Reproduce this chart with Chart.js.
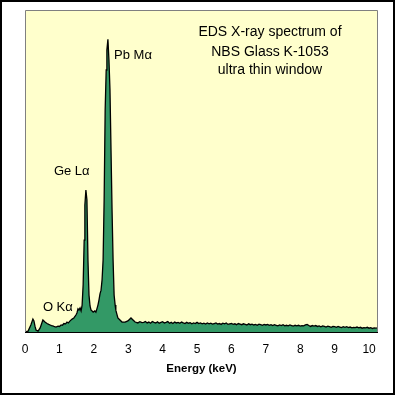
<!DOCTYPE html>
<html lang="en">
    <head>
        <meta charset="UTF-8">
        <title>EDS X-ray spectrum</title>
        <style>
            html, body { margin: 0; padding: 0; background: #fff; }
            #wrap { width: 395px; height: 395px; }
        </style>
    </head>
    <body>
        <div id="wrap">
            <canvas id="spectrumChart" width="395" height="395"></canvas>
        </div>

        <script src="https://cdn.jsdelivr.net/npm/chart.js"></script>

    <script>
        // energy (keV) and counts, Pb Ma peak = 1000
        const energy = [
            0, 0.09, 0.17, 0.23, 0.26, 0.29, 0.32, 0.38, 0.44, 0.49, 0.52, 0.58, 0.64, 0.69, 0.73, 0.77, 0.81, 0.86, 0.9, 0.96,
            1.0, 1.05, 1.09, 1.13, 1.18, 1.22, 1.26, 1.31, 1.37, 1.42, 1.48, 1.51, 1.54, 1.57, 1.6, 1.63, 1.66, 1.69, 1.72, 1.74, 1.77,
            1.8, 1.83, 1.86, 1.89, 1.92, 1.95, 1.98, 2.03, 2.06, 2.09, 2.12, 2.15, 2.18, 2.21, 2.24, 2.27, 2.3,
            2.33, 2.36, 2.38, 2.41, 2.44, 2.47, 2.5, 2.53, 2.56, 2.59, 2.62, 2.64, 2.67, 2.7, 2.76, 2.82, 2.91,
            2.99, 3.08, 3.14, 3.2, 3.28, 3.34, 3.4,
            3.45, 3.5, 3.55, 3.6, 3.65, 3.7, 3.75, 3.8, 3.85, 3.9, 3.95,
            4.0, 4.05, 4.1, 4.15, 4.2, 4.25, 4.3, 4.35, 4.4, 4.45, 4.5, 4.55, 4.6, 4.65, 4.7, 4.75, 4.8, 4.85, 4.9, 4.95,
            5.0, 5.05, 5.1, 5.15, 5.2, 5.25, 5.3, 5.35, 5.4, 5.45, 5.5, 5.55, 5.6, 5.65, 5.7, 5.75, 5.8, 5.85, 5.9, 5.95,
            6.0, 6.05, 6.1, 6.15, 6.2, 6.25, 6.3, 6.35, 6.4, 6.45, 6.5, 6.55, 6.6, 6.65, 6.7, 6.75, 6.8, 6.85, 6.9, 6.95,
            7.0, 7.05, 7.1, 7.15, 7.2, 7.25, 7.3, 7.35, 7.4, 7.45, 7.5, 7.55, 7.6, 7.65, 7.7, 7.75, 7.8, 7.85, 7.9, 7.95,
            8.0, 8.05, 8.1, 8.15, 8.2, 8.25, 8.3, 8.35, 8.4, 8.45, 8.5, 8.55, 8.6, 8.65, 8.7, 8.75, 8.8, 8.85, 8.9, 8.95,
            9.0, 9.05, 9.1, 9.15, 9.2, 9.25, 9.3, 9.35, 9.4, 9.45, 9.5, 9.55, 9.6, 9.65, 9.7, 9.75, 9.8, 9.85, 9.9, 9.95,
            10.0, 10.05, 10.1, 10.15, 10.2, 10.26
        ];
        const counts = [
            0, 3, 24, 44, 38, 20, 7, 3, 14, 31, 41, 34, 29, 26, 24, 22, 21, 18, 17, 20,
            19, 24, 23, 29, 28, 34, 31, 38, 44, 48, 58, 65, 79, 75, 82, 72, 92, 161, 314, 434, 485,
            451, 246, 126, 89, 75, 72, 68, 72, 68, 79, 92, 109, 130, 143, 178, 246, 451,
            758, 895, 963, 1000, 929, 827, 622, 417, 246, 126, 92, 75, 61, 48, 41, 34, 34,
            38, 48, 41, 34, 31, 35, 32,
            33, 36, 31, 34, 30, 36, 33, 31, 35, 30, 33,
            35, 31, 33, 36, 30, 33, 29, 34, 31, 33, 30, 34, 31, 29, 33, 30, 32, 28, 31, 29,
            33, 29, 31, 28, 30, 27, 31, 28, 30, 27, 29, 31, 27, 29, 26, 30, 28, 31, 26, 28,
            29, 26, 28, 25, 29, 27, 25, 28, 26, 24, 28, 25, 27, 24, 26, 23, 27, 25, 23, 26,
            24, 26, 23, 25, 22, 25, 23, 21, 24, 22, 25, 21, 23, 21, 24, 22, 20, 23, 21, 23,
            20, 22, 21, 24, 26, 22, 19, 22, 20, 22, 19, 21, 18, 21, 19, 17, 20, 18, 16, 19,
            18, 16, 19, 17, 15, 18, 16, 18, 15, 17, 14, 16, 15, 17, 14, 16, 13, 15, 14, 16,
            13, 15, 12, 14, 13, 14
        ];
        const xTicks = [0, 1, 2, 3, 4, 5, 6, 7, 8, 9, 10];

        const peakLabels = ['Pb M\u03b1', 'Ge L\u03b1', 'O K\u03b1'];
        const peakLabelAt = [[2.59, 946], [0.84, 547], [0.52, 85]];
        const titleLines = ['EDS X-ray spectrum of', 'NBS Glass K-1053', 'ultra thin window'];
        const titleLineAt = [[7.12, 1025], [7.12, 956], [7.12, 895]];

        const frame = {
            id: 'frame',
            beforeDatasetsDraw(chart) {
                const a = chart.chartArea, c = chart.ctx;
                c.save();
                c.fillStyle = '#ffffcc';
                c.fillRect(a.left, a.top, a.right - a.left, a.bottom - a.top);
                c.restore();
            },
            afterDraw(chart) {
                const a = chart.chartArea, c = chart.ctx;
                const xs = chart.scales.x, ys = chart.scales.y;
                c.save();
                c.strokeStyle = '#808080';
                c.lineWidth = 1;
                c.beginPath();
                c.moveTo(a.left + 0.5, a.bottom);
                c.lineTo(a.left + 0.5, a.top + 0.5);
                c.lineTo(a.right - 0.5, a.top + 0.5);
                c.lineTo(a.right - 0.5, a.bottom);
                c.stroke();
                c.strokeStyle = '#000';
                c.beginPath();
                c.moveTo(a.left, a.bottom + 0.5);
                c.lineTo(a.right, a.bottom + 0.5);
                c.stroke();

                c.fillStyle = '#000';
                c.textBaseline = 'middle';
                c.font = '13px "Liberation Sans", Arial, sans-serif';
                c.textAlign = 'left';
                peakLabels.forEach((t, i) => {
                    c.fillText(t, xs.getPixelForValue(peakLabelAt[i][0]), ys.getPixelForValue(peakLabelAt[i][1]));
                });
                c.font = '14px "Liberation Sans", Arial, sans-serif';
                c.textAlign = 'center';
                titleLines.forEach((t, i) => {
                    c.fillText(t, xs.getPixelForValue(titleLineAt[i][0]), ys.getPixelForValue(titleLineAt[i][1]));
                });

                // outer black frame
                c.lineWidth = 2;
                c.strokeRect(1, 1, chart.width - 2, chart.height - 2);
                c.restore();
            }
        };

        const ctx = document.getElementById('spectrumChart').getContext('2d');
        const spectrumChart = new Chart(ctx, {
            type: 'line',
            data: {
                datasets: [{
                    label: 'counts',
                    data: energy.map((e, i) => ({ x: e, y: counts[i] })),
                    backgroundColor: '#339966',
                    borderColor: '#000',
                    borderWidth: 1.3,
                    pointRadius: 0,
                    tension: 0,
                    fill: 'origin'
                }]
            },
            options: {
                responsive: false,
                animation: false,
                devicePixelRatio: 1,
                layout: { padding: { left: 25, right: 17, top: 10, bottom: 0 } },
                plugins: {
                    legend: { display: false },
                    tooltip: { enabled: false }
                },
                scales: {
                    x: {
                        type: 'linear',
                        min: 0,
                        max: 10.26,
                        afterFit: (scale) => { scale.height = 63; },
                        afterBuildTicks: (scale) => { scale.ticks = xTicks.map(v => ({ value: v })); },
                        grid: { display: false, drawTicks: false },
                        border: { display: false },
                        ticks: {
                            color: '#000',
                            padding: 10,
                            maxRotation: 0,
                            font: { family: '"Liberation Sans", Arial, sans-serif', size: 12 }
                        },
                        title: {
                            display: true,
                            text: 'Energy (keV)',
                            color: '#000',
                            padding: { top: 0, bottom: 19 },
                            font: { family: '"Liberation Sans", Arial, sans-serif', size: 11.5, weight: 'bold' }
                        }
                    },
                    y: {
                        display: false,
                        min: 0,
                        max: 1100
                    }
                }
            },
            plugins: [frame]
        });
    </script>
    </body>
</html>
